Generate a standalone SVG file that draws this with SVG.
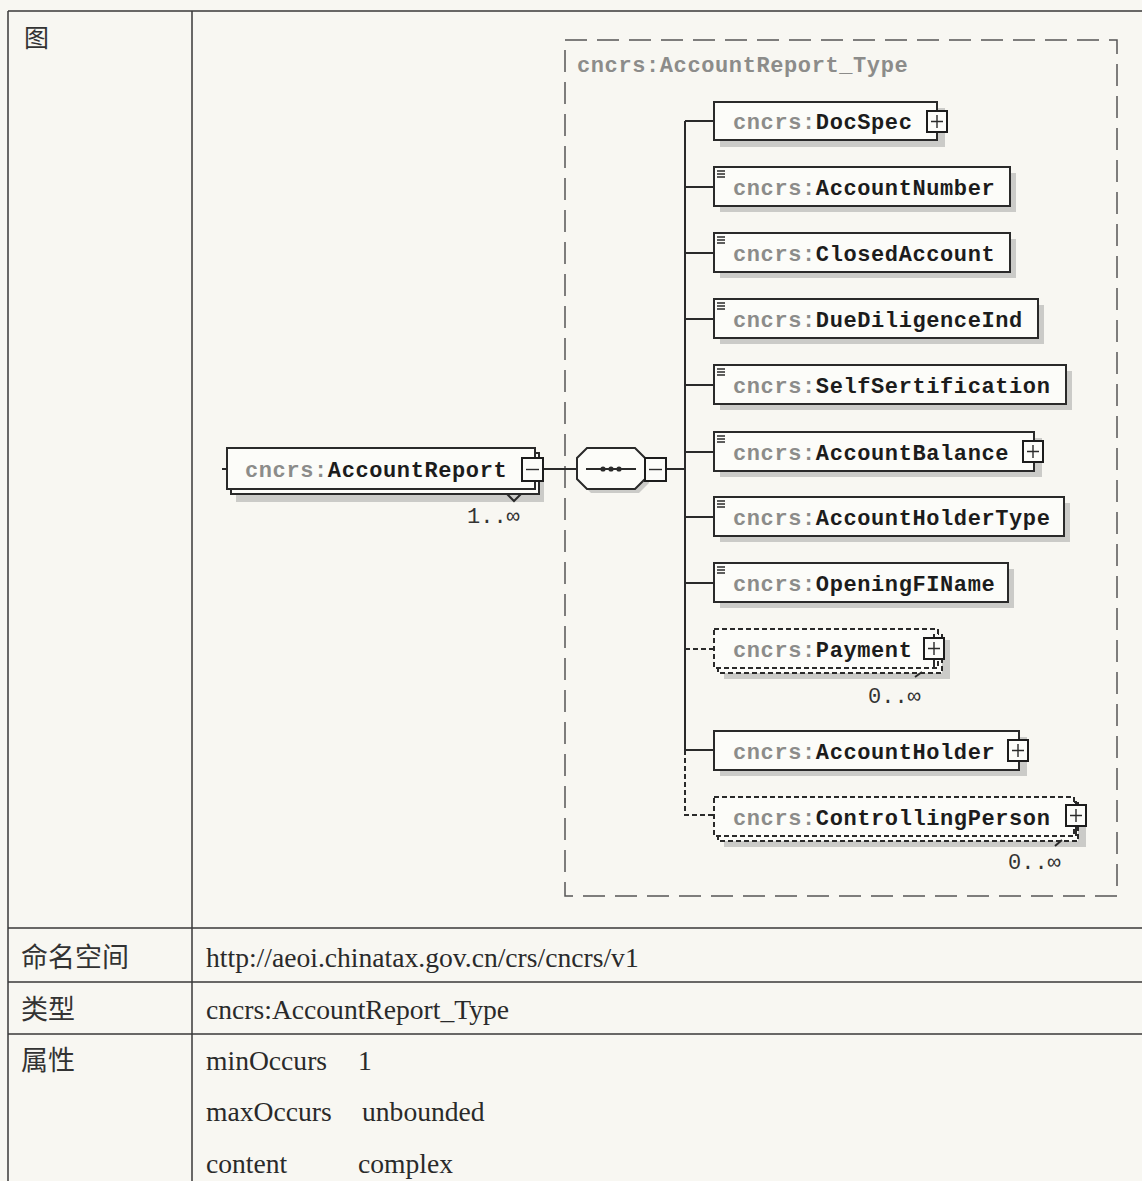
<svg xmlns="http://www.w3.org/2000/svg" width="1142" height="1181" viewBox="0 0 1142 1181">
<style>
.tbl{stroke:#3a3a3a;stroke-width:1.5;fill:none}
.cjk{font-family:"Noto Sans CJK SC","Noto Sans",sans-serif;font-size:27px;fill:#333}
.ser{font-family:"Liberation Serif","DejaVu Serif",serif;font-size:27.6px;fill:#2a2a2a}
.box{fill:#fcfcf9;stroke:#2a2a2a;stroke-width:2}
.opt{fill:#fcfcf9;stroke:#2a2a2a;stroke-width:2;stroke-dasharray:5 3}
.sh{fill:#cbcbc8}
.el{font-family:"Liberation Mono","DejaVu Sans Mono",monospace;font-size:22px;font-weight:bold;letter-spacing:0.6px}
.pre{fill:#8c8c8a}
.nm{fill:#1c1c1c}
.occ{font-family:"Liberation Mono","DejaVu Sans Mono",monospace;font-size:22px;fill:#333}
.ln{stroke:#2a2a2a;stroke-width:2;fill:none}
.dl{stroke:#2a2a2a;stroke-width:2;fill:none;stroke-dasharray:5 3}
.pm{fill:#fcfcf9;stroke:#1c1c1c;stroke-width:2}
.ic{stroke:#2a2a2a;stroke-width:1.4}
</style>
<defs>
<g id="plus"><rect class="pm" x="0" y="0" width="20" height="21"/><path class="ic" d="M4 10.5H16M10 4V17" stroke-width="1.8"/></g>
<g id="minus"><rect class="pm" x="0" y="0" width="21" height="23"/><path class="ic" d="M4 11.5H17" stroke-width="1.8"/></g>
<g id="simp"><path class="ic" d="M3 4H11M3 7H11M3 10H11"/></g>
</defs>
<rect width="1142" height="1181" fill="#f8f7f2"/>

<g id="table">
<path class="tbl" d="M8 11H1142M8 11V1181M192 11V1181M8 928H1142M8 982H1142M8 1034H1142"/>
<text class="cjk" x="24" y="47" style="font-size:25px">图</text>
<text class="cjk" x="21" y="967">命名空间</text>
<text class="ser" x="206" y="967">http://aeoi.chinatax.gov.cn/crs/cncrs/v1</text>
<text class="cjk" x="21" y="1019">类型</text>
<text class="ser" x="206" y="1019">cncrs:AccountReport_Type</text>
<text class="cjk" x="21" y="1070">属性</text>
<text class="ser" x="206" y="1070">minOccurs</text>
<text class="ser" x="358" y="1070">1</text>
<text class="ser" x="206" y="1121">maxOccurs</text>
<text class="ser" x="362" y="1121">unbounded</text>
<text class="ser" x="206" y="1173">content</text>
<text class="ser" x="358" y="1173">complex</text>
</g>

<g id="typebox">
<rect x="565" y="40" width="552" height="856" fill="none" stroke="#555" stroke-width="1.5" stroke-dasharray="22 10"/>
<text class="el pre" x="577" y="72">cncrs:AccountReport_Type</text>
</g>

<g id="connectors">
<path class="ln" d="M222 469H227M543 469H577M667 469H685M685 121V750"/>
<path class="ln" d="M685 121H714M685 187H714M685 253H714M685 319H714M685 385H714M685 452H714M685 517H714M685 583H714M685 750H714"/>
<path class="dl" d="M685 649H714M685 750V815H714"/>
</g>

<g id="AccountReport">
<rect class="sh" x="236" y="460" width="308" height="42"/>
<rect class="box" x="231" y="453" width="308" height="41"/>
<rect class="box" x="227" y="448" width="308" height="41"/>
<polyline class="ln" points="507,494 514,501 521,494" stroke-width="1.5"/>
<text class="el" x="245" y="477"><tspan class="pre">cncrs:</tspan><tspan class="nm">AccountReport</tspan></text>
<use href="#minus" x="522" y="458"/>
<text class="occ" x="467" y="523">1..∞</text>
</g>

<g id="sequence">
<polygon class="sh" points="591,452 639,452 649,462 649,483 639,493 591,493 581,483 581,462"/>
<polygon class="box" points="587,448 635,448 645,458 645,479 635,489 587,489 577,479 577,458"/>
<path class="ln" d="M586 469H636" stroke-width="1.5"/>
<circle cx="603" cy="469" r="2.6" fill="#2a2a2a"/><circle cx="611" cy="469" r="2.6" fill="#2a2a2a"/><circle cx="619" cy="469" r="2.6" fill="#2a2a2a"/>
<use href="#minus" x="645" y="458"/>
</g>

<g id="DocSpec">
<rect class="sh" x="720" y="108" width="225" height="39"/>
<rect class="box" x="714" y="102" width="223" height="38"/>
<text class="el" x="733" y="129"><tspan class="pre">cncrs:</tspan><tspan class="nm">DocSpec</tspan></text>
<use href="#plus" x="927" y="111"/>
</g>

<g id="AccountNumber">
<rect class="sh" x="720" y="173" width="296" height="39"/>
<rect class="box" x="714" y="167" width="296" height="39"/>
<use href="#simp" x="714" y="167"/>
<text class="el" x="733" y="195"><tspan class="pre">cncrs:</tspan><tspan class="nm">AccountNumber</tspan></text>
</g>

<g id="ClosedAccount">
<rect class="sh" x="720" y="239" width="296" height="39"/>
<rect class="box" x="714" y="233" width="296" height="39"/>
<use href="#simp" x="714" y="233"/>
<text class="el" x="733" y="261"><tspan class="pre">cncrs:</tspan><tspan class="nm">ClosedAccount</tspan></text>
</g>

<g id="DueDiligenceInd">
<rect class="sh" x="720" y="305" width="324" height="39"/>
<rect class="box" x="714" y="299" width="324" height="39"/>
<use href="#simp" x="714" y="299"/>
<text class="el" x="733" y="327"><tspan class="pre">cncrs:</tspan><tspan class="nm">DueDiligenceInd</tspan></text>
</g>

<g id="SelfSertification">
<rect class="sh" x="720" y="371" width="352" height="39"/>
<rect class="box" x="714" y="365" width="352" height="39"/>
<use href="#simp" x="714" y="365"/>
<text class="el" x="733" y="393"><tspan class="pre">cncrs:</tspan><tspan class="nm">SelfSertification</tspan></text>
</g>

<g id="AccountBalance">
<rect class="sh" x="720" y="438" width="322" height="39"/>
<rect class="box" x="714" y="432" width="320" height="39"/>
<use href="#simp" x="714" y="432"/>
<text class="el" x="733" y="460"><tspan class="pre">cncrs:</tspan><tspan class="nm">AccountBalance</tspan></text>
<use href="#plus" x="1023" y="441"/>
</g>

<g id="AccountHolderType">
<rect class="sh" x="720" y="503" width="350" height="39"/>
<rect class="box" x="714" y="497" width="350" height="39"/>
<use href="#simp" x="714" y="497"/>
<text class="el" x="733" y="525"><tspan class="pre">cncrs:</tspan><tspan class="nm">AccountHolderType</tspan></text>
</g>

<g id="OpeningFIName">
<rect class="sh" x="720" y="569" width="294" height="39"/>
<rect class="box" x="714" y="563" width="294" height="39"/>
<use href="#simp" x="714" y="563"/>
<text class="el" x="733" y="591"><tspan class="pre">cncrs:</tspan><tspan class="nm">OpeningFIName</tspan></text>
</g>

<g id="Payment">
<rect class="sh" x="724" y="640" width="226" height="39"/>
<rect class="opt" x="718" y="634" width="224" height="39"/>
<rect class="opt" x="714" y="629" width="224" height="39"/>
<text class="el" x="733" y="657"><tspan class="pre">cncrs:</tspan><tspan class="nm">Payment</tspan></text>
<path class="ln" d="M934 634V639M934 659V668" stroke-width="1.5"/>
<use href="#plus" x="924" y="638"/>
<path class="ln" d="M915 677L922 672" stroke-width="1.5"/>
<text class="occ" x="868" y="703">0..∞</text>
</g>

<g id="AccountHolder">
<rect class="sh" x="720" y="737" width="307" height="39"/>
<rect class="box" x="714" y="731" width="305" height="39"/>
<text class="el" x="733" y="759"><tspan class="pre">cncrs:</tspan><tspan class="nm">AccountHolder</tspan></text>
<use href="#plus" x="1008" y="740"/>
</g>

<g id="ControllingPerson">
<rect class="sh" x="724" y="808" width="362" height="39"/>
<rect class="opt" x="718" y="802" width="360" height="39"/>
<rect class="opt" x="714" y="797" width="360" height="39"/>
<text class="el" x="733" y="825"><tspan class="pre">cncrs:</tspan><tspan class="nm">ControllingPerson</tspan></text>
<path class="ln" d="M1076 801V806M1076 826V836" stroke-width="1.5"/>
<use href="#plus" x="1066" y="805"/>
<path class="ln" d="M1055 846L1062 840" stroke-width="1.5"/>
<text class="occ" x="1008" y="869">0..∞</text>
</g>
</svg>
